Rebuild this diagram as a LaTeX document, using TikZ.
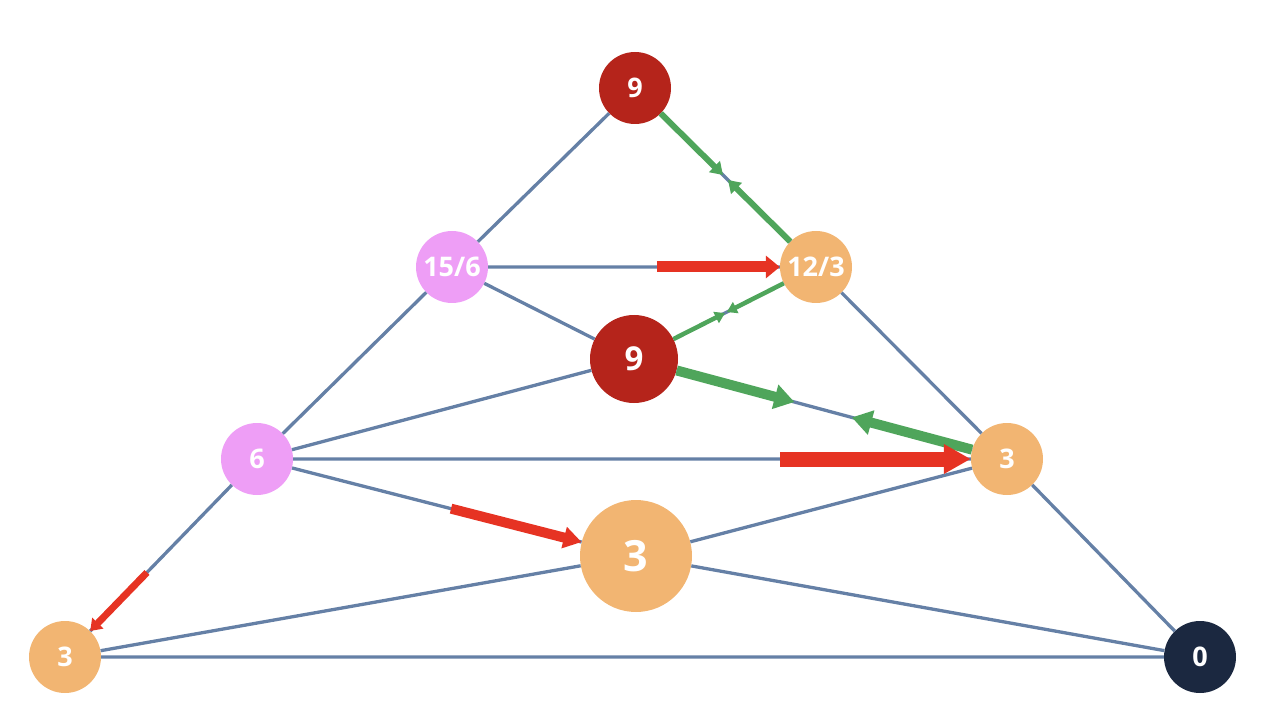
\documentclass[tikz,border=0pt]{standalone}
\usepackage{fontspec}
\setmainfont{Open Sans}
\usetikzlibrary{arrows.meta,calc}
\definecolor{edgeblue}{HTML}{6580A6}
\definecolor{grn}{HTML}{4FA55B}
\definecolor{rd}{HTML}{E63323}
\definecolor{dred}{HTML}{B5241B}
\definecolor{orng}{HTML}{F2B572}
\definecolor{pnk}{HTML}{EE9EF6}
\definecolor{navy}{HTML}{1B2840}
\tikzset{
  vtx/.style={circle, inner sep=0pt, minimum size=72pt, text=white,
    font=\fontsize{27}{27}\selectfont\bfseries},
  edge/.style={draw=edgeblue, line width=3.3pt},
  garrow/.style={draw=grn, line width=#1},
  rarrow/.style={draw=rd, line width=#1},
}
\begin{document}
\begin{tikzpicture}[x=1pt,y=-1pt]
\useasboundingbox (0,0) rectangle (1270,722);
% nodes
\node[vtx, fill=dred] (t9) at (635,88) {9};
\node[vtx, fill=pnk] (n156) at (452,267) {15/6};
\node[vtx, fill=orng] (n12) at (816,267) {12/3};
\node[vtx, fill=dred, minimum size=88pt, font=\fontsize{33}{33}\selectfont\bfseries] (m9) at (634,359) {9};
\node[vtx, fill=pnk] (n6) at (257,459) {6};
\node[vtx, fill=orng] (r3) at (1007,459) {3};
\node[vtx, fill=orng, minimum size=112pt, font=\fontsize{43}{43}\selectfont\bfseries] (b3) at (636,556) {3};
\node[vtx, fill=orng] (bl3) at (65,657) {3};
\node[vtx, fill=navy] (z0) at (1200,657) {0};
% edges
\draw[edge] (t9)--(n156) (n156)--(n6) (n6)--(bl3)
  (t9)--(n12) (n12)--(r3) (r3)--(z0) (bl3)--(z0)
  (n156)--(n12) (n6)--(r3) (n156)--(m9) (m9)--(n12)
  (n6)--(m9) (m9)--(r3) (n6)--(b3) (b3)--(z0)
  (bl3)--(b3) (b3)--(r3);
% free ends
\coordinate (ga1) at ($(t9)!0.486!(n12)$);
\coordinate (ga2) at ($(n12)!0.486!(t9)$);
\coordinate (gb1) at ($(m9)!0.50!(n12)$);
\coordinate (gb2) at ($(n12)!0.49!(m9)$);
\coordinate (gc1) at ($(m9)!0.43!(r3)$);
\coordinate (gc2) at ($(r3)!0.416!(m9)$);
\coordinate (ra) at ($(n156)!0.563!(n12)$);
\coordinate (rb) at ($(n6)!0.697!(r3)$);
\coordinate (rc) at ($(n6)!0.512!(b3)$);
\coordinate (rd1) at ($(n6)!0.573!(bl3)$);
% green arrows
\draw[garrow=6pt, -{Triangle[length=12pt,width=15pt]}, fill=grn] (t9) -- (ga1);
\draw[garrow=6pt, -{Triangle[length=12pt,width=15pt]}, fill=grn] (n12) -- (ga2);
\draw[garrow=4.5pt, -{Triangle[length=10pt,width=12pt]}, fill=grn] (m9) -- (gb1);
\draw[garrow=4.5pt, -{Triangle[length=10pt,width=12pt]}, fill=grn] (n12) -- (gb2);
\draw[garrow=10pt, -{Triangle[length=20pt,width=24pt]}, fill=grn] (m9) -- (gc1);
\draw[garrow=10pt, -{Triangle[length=20pt,width=24pt]}, fill=grn] (r3) -- (gc2);
% red arrows
\draw[rarrow=11pt, -{Triangle[length=14pt,width=22pt]}] (ra) -- (n12);
\draw[rarrow=15pt, -{Triangle[length=27pt,width=28pt]}] (rb) -- (r3);
\draw[rarrow=10pt, -{Triangle[length=18pt,width=21pt]}] (rc) -- (b3);
\draw[rarrow=7pt, -{Triangle[length=11pt,width=15pt]}] (rd1) -- (bl3);
\end{tikzpicture}
\end{document}
